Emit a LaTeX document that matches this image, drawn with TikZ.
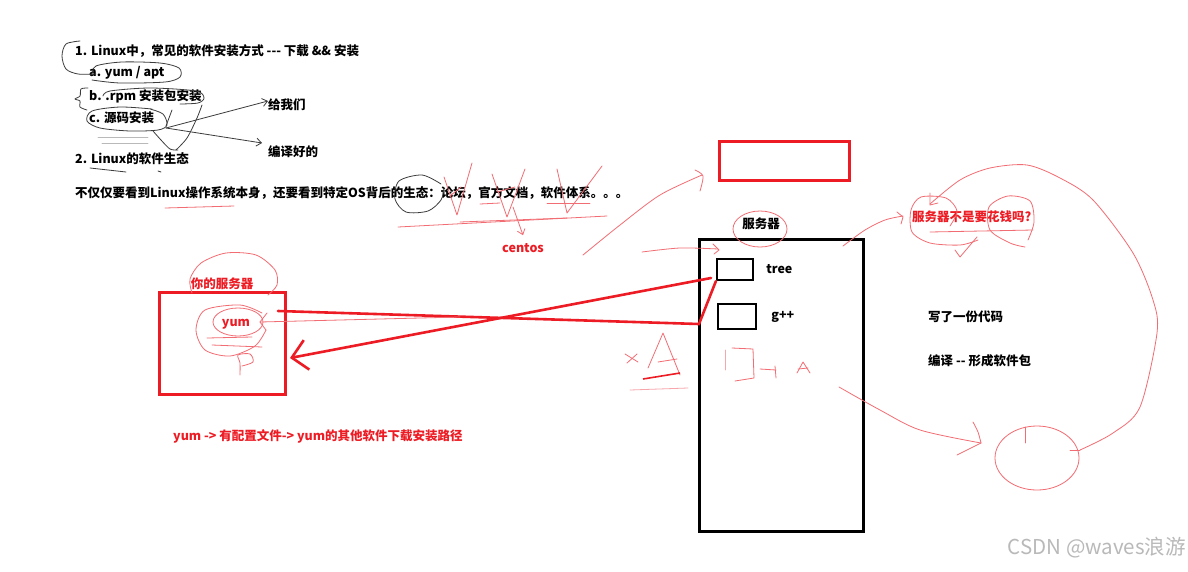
\documentclass[tikz,border=0pt]{standalone}
\usepackage{fontspec}
\setmainfont{Noto Sans CJK SC}
\usetikzlibrary{positioning, arrows.meta}
\definecolor{paintRed}{HTML}{ED1C24}
\definecolor{penRed}{HTML}{F26D73}
\definecolor{penGray}{HTML}{3C3C3C}
\definecolor{markGray}{HTML}{B9B9B9}

\begin{document}
\begin{tikzpicture}[
    x=1pt, y=-1pt,
    txt/.style={font=\fontsize{12.5}{15}\selectfont\bfseries, inner sep=0pt, anchor=west},
    redtxt/.style={txt, text=paintRed},
    redbox/.style={draw=paintRed, line width=3pt, minimum width=#1},
    blkbox/.style={draw=black, line width=3pt, minimum width=#1},
    smallbox/.style={draw=black, line width=2.2pt, minimum width=#1},
    thickred/.style={draw=paintRed, line width=2.6pt, line cap=round},
    pen/.style={draw=penRed, line width=0.8pt, line cap=round, line join=round},
    pencil/.style={draw=penGray, line width=0.8pt, line cap=round, line join=round},
    barb/.style={-{Straight Barb[length=5pt, width=8pt]}}
]
    \useasboundingbox (0,0) rectangle (1188,571);
    \fill[white] (0,0) rectangle (1188,571);

    % Notes, top left
    \node[txt] (n1) at (75,51) {1. Linux中，常见的软件安装方式 -{}-{}- 下载 \&\& 安装};
    \node[txt] (na) at (89,73) {a. yum / apt};
    \node[txt] (nb) at (89,96) {b. .rpm 安装包安装};
    \node[txt] (nc) at (89,118) {c. 源码安装};
    \node[txt] (n2) at (75,159) {2. Linux的软件生态};
    \node[txt] (give) at (268,105) {给我们};
    \node[txt] (compiled) at (268,152) {编译好的};
    \node[txt] (eco) at (75,193) {不仅仅要看到Linux操作系统本身，还要看到特定OS背后的生态：论坛，官方文档，软件体系。。。};
    \node[redtxt, anchor=center] (centos) at (523,248) {centos};

    % Your server
    \node[redbox=126pt, minimum height=102pt] (yours) at (222,343) {};
    \node[redtxt, anchor=center] (yourslbl) at (222,284) {你的服务器};
    \node[redtxt, anchor=center] (yum) at (236,324) {yum};
    \node[redtxt] (yumpath) at (173,436) {yum -> 有配置文件-> yum的其他软件下载安装路径};

    % Remote server
    \node[redbox=130pt, minimum height=39pt] (newbox) at (784,160.5) {};
    \node[blkbox=164pt, minimum height=292pt] (server) at (781,385) {};
    \node[txt, anchor=center] (serverlbl) at (761,224) {服务器};
    \node[smallbox=36pt, minimum height=21pt] (treebox) at (735,269.5) {};
    \node[smallbox=38pt, minimum height=25pt] (gbox) at (737,316.5) {};
    \node[txt, right=12pt of treebox] (treelbl) {tree};
    \node[txt, right=14pt of gbox] (glbl) {g++};
    \node[redtxt] (money) at (912,217) {服务器不是要花钱吗?};
    \node[txt] (code) at (928,317) {写了一份代码};
    \node[txt] (pkg) at (928,361) {编译 -{}- 形成软件包};
    \node[anchor=east, inner sep=0pt, text=markGray, font=\fontsize{20.5}{22}\selectfont] (mark) at (1186,548) {CSDN @waves浪游};

    % Thick red links
    \coordinate (yumtail) at (278,311);
    \coordinate (bend) at (699,324);
    \coordinate (treefoot) at (711,278);
    \coordinate (yumhead) at (290,358);
    \draw[thickred] (yumtail) -- (bend) -- (treebox.south west);
    \draw[thickred, -{Straight Barb[length=15pt, width=30pt]}] (treefoot) -- (yumhead);

    % Pencil marks on the notes
    \draw[pencil] plot[smooth] coordinates {(80,41) (66,44) (62,56) (66,69) (78,74) (96,74)};
    \draw[pencil] plot[smooth] coordinates {(92,75) (96,66) (122,62) (160,63) (179,68) (180,77) (165,82) (120,83) (92,80)};
    \draw[pencil] plot[smooth] coordinates {(88,88) (81,89) (80,96) (75,99) (80,101) (80,107) (87,110)};
    \draw[pencil] plot[smooth] coordinates {(103,96) (110,91) (150,88) (196,91) (204,98) (198,103) (180,104)};
    \draw[pencil] plot[smooth] coordinates {(152,109) (120,107) (92,111) (87,121) (100,128) (130,131) (158,130) (167,125) (163,114) (150,109)};
    \draw[pencil] (172,110) -- (166,126);
    \draw[pencil] plot[smooth] coordinates {(202,105) (197,118) (187,138) (176,150)};
    \draw[pencil] plot[smooth] coordinates {(153,131) (161,140) (170,149) (178,150)};
    \draw[pencil, draw=markGray] (98,137) -- (148,137);
    \draw[pencil, draw=markGray] (102,143) -- (148,143);
    \coordinate (cfork) at (166,128);
    \draw[pencil, barb] (cfork) -- ([yshift=4pt]give.west);
    \draw[pencil, barb] (cfork) -- ([yshift=9pt,xshift=-6pt]compiled.west);
    \draw[pencil] plot[smooth] coordinates {(90,168) (108,170) (126,172)};
    \draw[pencil] (158,171) -- (161,172);
    \draw[pencil] plot[smooth] coordinates {(441,184) (422,175) (399,181) (395,199) (406,212) (428,211) (441,200) (444,188)};
    \draw[pen] (165,208) -- (234,206);

    % Red pen marks round the ecosystem
    \draw[pen] (444,177) -- (457,215) -- (472,163);
    \draw[pen] (450,196) -- (461,187);
    \draw[pen] (492,174) -- (507,217) -- (525,169);
    \draw[pen] (497,192) -- (515,187);
    \draw[pen] (557,169) -- (567,213) -- (602,166);
    \draw[pen] (480,204) -- (500,203);
    \draw[pen] (547,203) -- (590,203);
    \draw[pen] (398,227) -- (607,216);
    \draw[pen] (460,222) -- (567,218);
    \draw[pen, barb] (513,207) -- ([yshift=8pt]centos.north);
    \draw[pen] plot[smooth] coordinates {(583,255) (620,225) (660,195) (702,175)};
    \draw[pen] plot[smooth] coordinates {(695,170) (703,176) (700,191)};
    \draw[pen] plot[smooth] coordinates {(642,252) (680,248) (718,249)};
    \draw[pen] (713,244) -- (719,250) -- (714,254);
    \draw[pen] (760,229) ellipse [x radius=27pt, y radius=18pt];

    % Sketches beside the server
    \draw[pen] (625,354) -- (638,362);
    \draw[pen] (627,363) -- (637,354);
    \draw[pen] (648,368) -- (663,333) -- (680,375);
    \draw[pen] (658,362) -- (677,359);
    \draw[draw=paintRed, line width=1.6pt] (643,379) -- (680,373);
    \draw[pen, draw=penRed!60] (630,390) -- (688,388);
    \draw[pen, draw=penRed!60] (725,350) -- (725,370);
    \draw[pen] (732,348) -- (753,349) -- (754,378) -- (735,381);
    \draw[pen] (760,369) -- (776,370);
    \draw[pen] (775,366) -- (776,378);
    \draw[pen] (797,373) -- (803,362) -- (810,373);
    \draw[pen] (798,369) -- (808,368);

    % Red pen marks on your server
    \draw[pen] plot[smooth] coordinates {(192,293) (190,279) (201,263) (226,253) (256,255) (275,270) (277,285) (268,295)};
    \draw[pen] (238,322) ellipse [x radius=25pt, y radius=14pt];
    \draw[pen] plot[smooth] coordinates {(262,313) (240,305) (205,310) (196,330) (205,350) (230,356) (255,346) (266,330)};
    \draw[pen] (207,338) -- (252,337);
    \draw[pen] (212,345) -- (262,347);
    \draw[pen] plot[smooth] coordinates {(240,375) (240,363) (238,355) (250,354) (253,362) (242,366)};
    \draw[pen] (260,322) -- (460,317);
    \draw[pen] (267,313) -- (260,322) -- (266,330);

    % Red pen marks on the right
    \draw[pen] plot[smooth] coordinates {(843,246) (865,230) (885,220) (903,216)};
    \draw[pen] (897,212) -- (903,217) -- (901,224);
    \draw[pen] plot[smooth] coordinates {(950,226) (957,211) (946,198) (921,197) (911,210) (912,232) (930,243) (960,245) (978,240)};
    \draw[pen] plot[smooth] coordinates {(1025,247) (1010,243) (990,230) (989,207) (1008,196) (1030,201) (1034,222) (1028,240)};
    \draw[pen] (930,232) -- (1033,230);
    \draw[pen] (955,250) -- (960,257) -- (977,237);
    \draw[pen] plot[smooth] coordinates {(1080,450) (1113,433) (1140,407) (1157,333) (1153,300) (1133,253) (1093,200) (1060,178) (1027,165) (990,168) (960,180) (930,204)};
    \draw[pen] (930,193) -- (930,205) -- (938,203);
    \draw[pen] (1070,450) -- (1080,450);
    \draw[pen] (1037,458) ellipse [x radius=42pt, y radius=32pt];
    \draw[pen] (1025,427) -- (1025,443);
    \draw[pen] plot[smooth] coordinates {(839,387) (880,410) (920,430) (981,443)};
    \draw[pen] plot[smooth] coordinates {(973,422) (978,432) (981,443)};
    \draw[pen] (957,455) -- (981,443);
\end{tikzpicture}
\end{document}
